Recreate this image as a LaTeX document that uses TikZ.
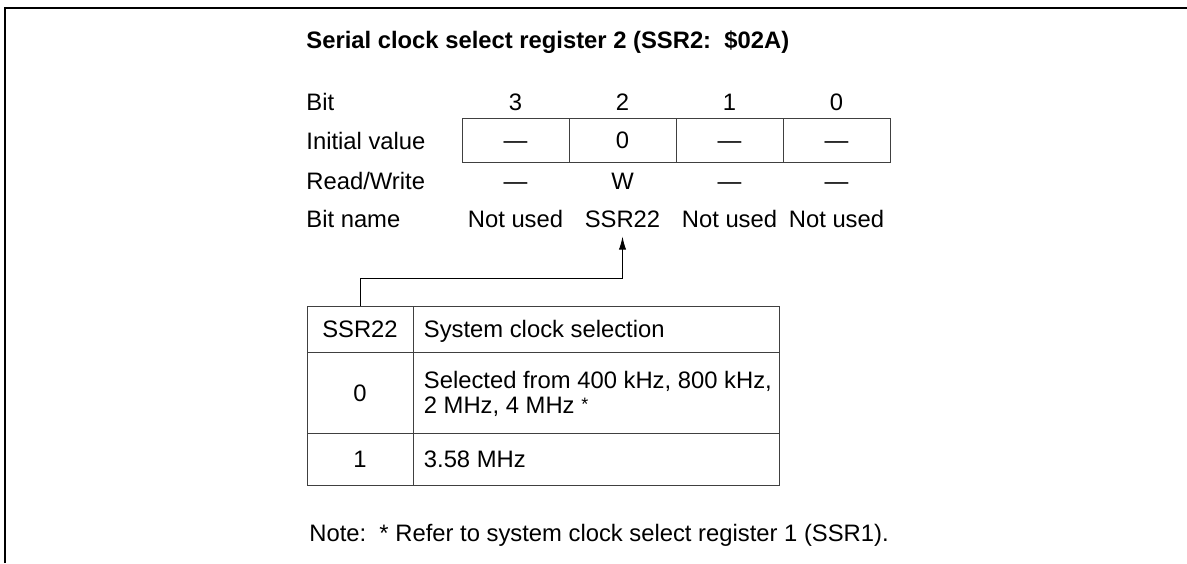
\documentclass[tikz,border=0pt]{standalone}
\usepackage{fontspec}
\setmainfont{Liberation Sans}
\usetikzlibrary{arrows.meta}

\newcommand{\regfont}{\fontsize{11.9}{12.5}\selectfont}

\begin{document}
\begin{tikzpicture}[x=0.5pt,y=-0.5pt,
	txt/.style={font=\regfont, inner sep=0pt, text height=8.5pt, text depth=0pt},
	regcell/.style={txt, draw=black!75, line width=0.5pt, minimum width=53.5pt, minimum height=22pt},
	tabcell/.style={txt, draw=black!75, line width=0.5pt, minimum width=53pt},
	desc/.style={tabcell, minimum width=183pt},
	link/.style={line width=0.5pt, -{Latex[length=6.5pt,width=3.6pt]}, shorten >=4.3pt}]

	\useasboundingbox (0,0) rectangle (1187,563);

	% Marc
	\draw[line width=0.7pt] (5,563) -- (5,8) -- (1187,8);

	% Titol
	\node[txt, font=\regfont\bfseries, anchor=west] (title) at (306,40) {Serial clock select register 2 (SSR2:\ \ \$02A)};

	% Etiquetes de fila
	\node[txt, anchor=west] (lbit) at (306,102) {Bit};
	\node[txt, anchor=west] (linit) at (306,141) {Initial value};
	\node[txt, anchor=west] (lrw) at (306,181) {Read/Write};
	\node[txt, anchor=west] (lname) at (306,219) {Bit name};

	% Bits
	\node[txt] (b3) at (515.5,102) {3};
	\node[txt] (b2) at (622.5,102) {2};
	\node[txt] (b1) at (729.5,102) {1};
	\node[txt] (b0) at (836.5,102) {0};

	\node[regcell] (r3) at (515.5,140) {---};
	\node[regcell] (r2) at (622.5,140) {0};
	\node[regcell] (r1) at (729.5,140) {---};
	\node[regcell] (r0) at (836.5,140) {---};

	\node[txt] (w3) at (515.5,181) {---};
	\node[txt] (w2) at (622.5,181) {W};
	\node[txt] (w1) at (729.5,181) {---};
	\node[txt] (w0) at (836.5,181) {---};

	\node[txt] (n3) at (515.5,219) {Not used};
	\node[txt] (n2) at (622.5,219) {SSR22};
	\node[txt] (n1) at (729.5,219) {Not used};
	\node[txt] (n0) at (836.5,219) {Not used};

	% Taula SSR22
	\node[tabcell, minimum height=23pt] (h1) at (360,329) {SSR22};
	\node[desc, minimum height=23pt] (h2) at (596,329) {};
	\node[tabcell, minimum height=40.5pt] (v0) at (360,392.5) {0};
	\node[desc, minimum height=40.5pt] (d0) at (596,392.5) {};
	\node[tabcell, minimum height=26pt] (v1) at (360,459) {1};
	\node[desc, minimum height=26pt] (d1) at (596,459) {};

	\node[txt, anchor=west] (h2t) at ([xshift=5.5pt]h2.west) {System clock selection};
	\node[txt, anchor=west, align=left, text height=21pt] (d0t) at ([xshift=5.5pt]d0.west)
		{Selected from 400 kHz, 800 kHz,\\2 MHz, 4 MHz \raisebox{1.5pt}{\small *}};
	\node[txt, anchor=west] (d1t) at ([xshift=5.5pt]d1.west) {3.58 MHz};

	\draw[link] (h1.north) -- ++(0,-27) -| (n2.south);

	% Nota
	\node[txt, anchor=west] (note) at (309,533) {Note:\ \ * Refer to system clock select register 1 (SSR1).};

\end{tikzpicture}
\end{document}
